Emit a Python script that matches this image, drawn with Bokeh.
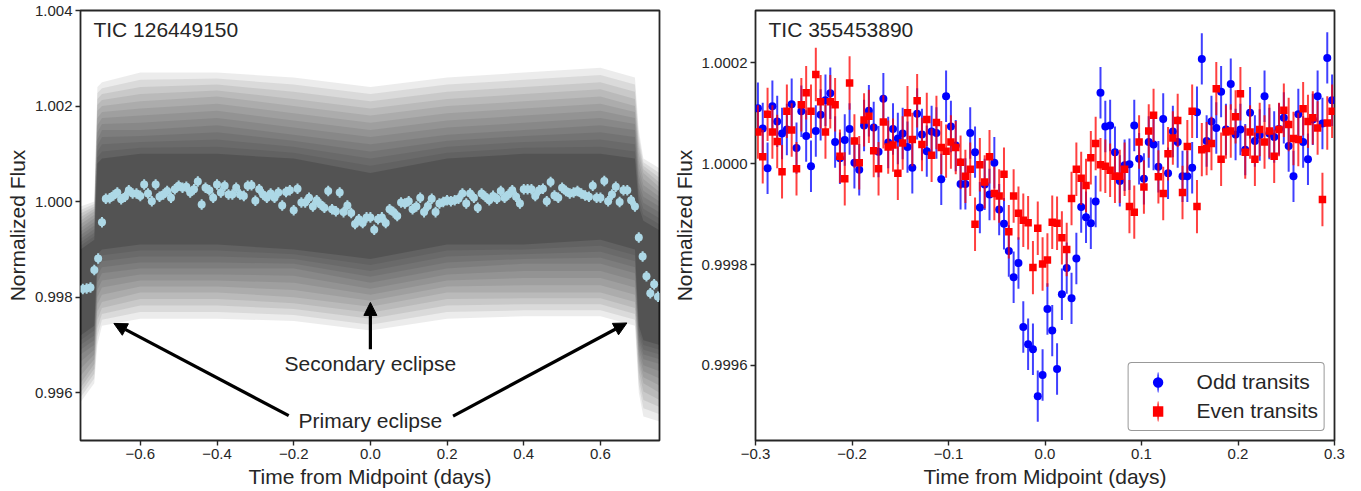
import math
from bokeh.plotting import figure
from bokeh.models import (FixedTicker, CustomJSTickFormatter, Arrow, NormalHead,
                          Label, Legend, LegendItem, Range1d)
from bokeh.layouts import row
from bokeh.embed import file_html
from bokeh.resources import INLINE

# ---------------- Left panel data (TIC 126449150) ----------------
bin_time = [-0.75, -0.74, -0.73, -0.72, -0.71, -0.70, -0.69, -0.68, -0.67, -0.66,
            -0.65, -0.64, -0.63, -0.62, -0.61, -0.60, -0.59, -0.58, -0.57, -0.56,
            -0.55, -0.54, -0.53, -0.52, -0.51, -0.50, -0.49, -0.48, -0.47, -0.46,
            -0.45, -0.44, -0.43, -0.42, -0.41, -0.40, -0.39, -0.38, -0.37, -0.36,
            -0.35, -0.34, -0.33, -0.32, -0.31, -0.30, -0.29, -0.28, -0.27, -0.26,
            -0.25, -0.24, -0.23, -0.22, -0.21, -0.20, -0.19, -0.18, -0.17, -0.16,
            -0.15, -0.14, -0.13, -0.12, -0.11, -0.10, -0.09, -0.08, -0.07, -0.06,
            -0.05, -0.04, -0.03, -0.02, -0.01, 0.00, 0.01, 0.02, 0.03, 0.04,
            0.05, 0.06, 0.07, 0.08, 0.09, 0.10, 0.11, 0.12, 0.13, 0.14,
            0.15, 0.16, 0.17, 0.18, 0.19, 0.20, 0.21, 0.22, 0.23, 0.24,
            0.25, 0.26, 0.27, 0.28, 0.29, 0.30, 0.31, 0.32, 0.33, 0.34,
            0.35, 0.36, 0.37, 0.38, 0.39, 0.40, 0.41, 0.42, 0.43, 0.44,
            0.45, 0.46, 0.47, 0.48, 0.49, 0.50, 0.51, 0.52, 0.53, 0.54,
            0.55, 0.56, 0.57, 0.58, 0.59, 0.60, 0.61, 0.62, 0.63, 0.64,
            0.65, 0.66, 0.67, 0.68, 0.69, 0.70, 0.71, 0.72, 0.73, 0.74, 0.75]
bin_flux = [0.99817, 0.99818, 0.99820, 0.99857, 0.99881, 0.99957, 1.00006, 1.00007, 1.00013, 1.00019,
            1.00005, 1.00010, 1.00024, 1.00017, 1.00017, 1.00012, 1.00036, 1.00017, 1.00001, 1.00036,
            1.00010, 1.00015, 1.00022, 1.00008, 1.00026, 1.00033, 1.00029, 1.00031, 1.00019, 1.00026,
            1.00042, 0.99994, 1.00029, 1.00024, 1.00008, 1.00036, 1.00019, 1.00033, 1.00015, 1.00015,
            1.00029, 1.00015, 1.00012, 1.00033, 1.00034, 1.00002, 1.00026, 1.00015, 1.00008, 1.00017,
            1.00008, 1.00019, 0.99992, 1.00020, 1.00024, 0.99982, 1.00027, 0.99998, 0.99998, 1.00008,
            0.99990, 1.00003, 0.99994, 0.99987, 1.00022, 0.99984, 0.99980, 1.00019, 0.99978, 0.99992,
            0.99976, 0.99953, 0.99963, 0.99955, 0.99967, 0.99967, 0.99941, 0.99963, 0.99967, 0.99955,
            0.99984, 0.99978, 0.99970, 0.99998, 0.99996, 1.00001, 0.99984, 0.99990, 1.00008, 0.99978,
            0.99991, 1.00006, 0.99978, 0.99996, 0.99999, 1.00003, 1.00001, 1.00003, 1.00006, 1.00017,
            0.99996, 1.00017, 1.00008, 0.99987, 1.00017, 1.00010, 1.00003, 1.00012, 1.00006, 1.00022,
            1.00008, 1.00015, 1.00024, 1.00010, 0.99996, 1.00026, 1.00026, 1.00026, 1.00012, 1.00024,
            1.00027, 1.00001, 1.00041, 1.00013, 1.00008, 1.00029, 1.00022, 1.00017, 1.00019, 1.00022,
            1.00017, 1.00013, 1.00010, 1.00033, 1.00008, 1.00008, 1.00043, 1.00001, 1.00015, 1.00031,
            0.99999, 1.00024, 1.00024, 1.00003, 0.99990, 0.99925, 0.99885, 0.99844, 0.99808, 0.99827, 0.99801]
bin_err = 0.00011

# Envelope of the unbinned cloud, read at a few times (outer -> inner)
cloud_time = [-0.756, -0.72, -0.712, -0.70, -0.6, -0.4, -0.2, 0.0, 0.2, 0.4, 0.6, 0.69, 0.70, 0.712, 0.754]
cloud_outer_top = [0.9999, 1.0000, 1.0024, 1.0025, 1.0027, 1.0027, 1.0026, 1.0024, 1.0026, 1.0027, 1.0028, 1.0026, 1.0015, 1.0009, 1.0007]
cloud_outer_bot = [0.9958, 0.9962, 0.9970, 0.9974, 0.99755, 0.99755, 0.9975, 0.9973, 0.99755, 0.9976, 0.9976, 0.9974, 0.9960, 0.9955, 0.9954]
cloud_mid_top = [0.9996, 0.9998, 1.0019, 1.0020, 1.0021, 1.0022, 1.0020, 1.0018, 1.0020, 1.0021, 1.0022, 1.0020, 1.0010, 1.0006, 1.0003]
cloud_mid_bot = [0.9962, 0.9966, 0.9977, 0.9979, 0.9981, 0.9981, 0.9980, 0.9978, 0.9981, 0.9981, 0.9981, 0.9979, 0.9966, 0.9962, 0.9960]
cloud_core_top = [0.9993, 0.9995, 1.0013, 1.0015, 1.0015, 1.0016, 1.0014, 1.0012, 1.0014, 1.0015, 1.0016, 1.0015, 1.0004, 1.0001, 0.9999]
cloud_core_bot = [0.9968, 0.9970, 0.9983, 0.9985, 0.9986, 0.9986, 0.9986, 0.9983, 0.9986, 0.9987, 0.9987, 0.9985, 0.9970, 0.9967, 0.9966]
cloud_dark_top = [0.9990, 0.9992, 1.0008, 1.0009, 1.0010, 1.0010, 1.0009, 1.0006, 1.0009, 1.0010, 1.0010, 1.0009, 0.9999, 0.9996, 0.9994]
cloud_dark_bot = [0.9972, 0.9974, 0.9989, 0.9990, 0.9991, 0.9991, 0.9990, 0.9988, 0.9991, 0.9991, 0.9992, 0.9990, 0.9974, 0.9971, 0.9970]

# ---------------- Right panel data (TIC 355453890) ----------------
oe_time = [-0.2975, -0.2925, -0.2875, -0.2825, -0.2775, -0.2725, -0.2675, -0.2625, -0.2575, -0.2525,
           -0.2475, -0.2425, -0.2375, -0.2325, -0.2275, -0.2225, -0.2175, -0.2125, -0.2075, -0.2025,
           -0.1975, -0.1925, -0.1875, -0.1825, -0.1775, -0.1725, -0.1675, -0.1625, -0.1575, -0.1525,
           -0.1475, -0.1425, -0.1375, -0.1325, -0.1275, -0.1225, -0.1175, -0.1125, -0.1075, -0.1025,
           -0.0975, -0.0925, -0.0875, -0.0825, -0.0775, -0.0725, -0.0675, -0.0625, -0.0575, -0.0525,
           -0.0475, -0.0425, -0.0375, -0.0325, -0.0275, -0.0225, -0.0175, -0.0125, -0.0075, -0.0025,
           0.0025, 0.0075, 0.0125, 0.0175, 0.0225, 0.0275, 0.0325, 0.0375, 0.0425, 0.0475,
           0.0525, 0.0575, 0.0625, 0.0675, 0.0725, 0.0775, 0.0825, 0.0875, 0.0925, 0.0975,
           0.1025, 0.1075, 0.1125, 0.1175, 0.1225, 0.1275, 0.1325, 0.1375, 0.1425, 0.1475,
           0.1525, 0.1575, 0.1625, 0.1675, 0.1725, 0.1775, 0.1825, 0.1875, 0.1925, 0.1975,
           0.2025, 0.2075, 0.2125, 0.2175, 0.2225, 0.2275, 0.2325, 0.2375, 0.2425, 0.2475,
           0.2525, 0.2575, 0.2625, 0.2675, 0.2725, 0.2775, 0.2825, 0.2875, 0.2925, 0.2975]
odd_flux = [1.000110, 1.000070, 0.999991, 1.000114, 1.000084, 1.000060, 1.000068, 1.000118, 1.000031, 1.000104,
            1.000055, 0.999995, 1.000065, 1.000097, 1.000126, 1.000140, 1.000043, 1.000011, 1.000047, 1.000069,
            1.000002, 0.999988, 1.000076, 1.000105, 1.000072, 1.000024, 1.000129, 1.000042, 1.000069, 1.000050,
            1.000060, 1.000033, 0.999992, 1.000099, 1.000058, 1.000025, 1.000064, 1.000061, 0.999969, 1.000134,
            1.000074, 1.000036, 0.999960, 0.999960, 1.000061, 1.000023, 0.999913, 0.999959, 0.999939, 1.000002,
            0.999909, 0.999881, 0.999827, 0.999775, 0.999803, 0.999676, 0.999642, 0.999632, 0.999539, 0.999581,
            0.999712, 0.999669, 0.999593, 0.999741, 0.999793, 0.999733, 0.999812, 0.999914, 0.999894, 0.999882,
            0.999925, 1.000141, 1.000074, 1.000076, 1.000023, 0.999966, 0.999997, 0.999999, 1.000076, 1.000010,
            0.999970, 1.000043, 1.000038, 0.999994, 1.000089, 0.999981, 1.000064, 1.000043, 0.999975, 0.999975,
            0.999992, 1.000102, 1.000208, 1.000045, 1.000084, 1.000071, 1.000143, 1.000068, 1.000158, 1.000058,
            1.000068, 1.000028, 1.000101, 1.000045, 1.000057, 1.000134, 1.000060, 1.000053, 1.000069, 1.000091,
            1.000035, 0.999975, 1.000098, 1.000043, 1.000009, 1.000088, 1.000134, 1.000080, 1.000210, 1.000126]
even_flux = [1.000063, 1.000014, 1.000098, 1.000063, 1.000044, 0.999984, 1.000104, 1.000067, 0.999990, 1.000117,
             1.000141, 1.000104, 1.000177, 1.000123, 1.000063, 1.000123, 1.000117, 1.000015, 0.999970, 1.000160,
             1.000045, 1.000002, 1.000087, 1.000094, 1.000026, 0.999990, 1.000083, 1.000033, 1.000037, 0.999981,
             1.000041, 1.000101, 1.000048, 1.000125, 1.000038, 1.000088, 1.000017, 1.000082, 1.000032, 1.000025,
             1.000043, 1.000032, 1.000003, 0.999975, 0.999989, 0.999880, 0.999998, 0.999964, 1.000014, 0.999941,
             0.999936, 0.999979, 0.999865, 0.999936, 0.999902, 0.999888, 0.999883, 0.999794, 0.999872, 0.999801,
             0.999809, 0.999884, 0.999882, 0.999853, 0.999830, 0.999931, 0.999989, 0.999971, 0.999957, 1.000012,
             1.000040, 0.999998, 0.999995, 0.999987, 0.999975, 0.999975, 0.999989, 0.999915, 0.999904, 1.000043,
             0.999954, 1.000065, 1.000096, 0.999974, 0.999941, 1.000020, 1.000051, 1.000086, 0.999943, 1.000034,
             1.000104, 0.999915, 1.000028, 1.000030, 1.000040, 1.000149, 1.000009, 1.000063, 1.000065, 1.000093,
             1.000139, 1.000023, 1.000063, 1.000009, 1.000068, 1.000043, 1.000065, 1.000015, 1.000068, 1.000106,
             1.000078, 1.000050, 1.000048, 1.000109, 1.000084, 1.000091, 1.000071, 0.999929, 1.000081, 1.000104]
odd_err = 0.000051
even_err = 0.000053

FONT = "Liberation Sans"
TXT = "#262626"
BIG = "21px"
TICK = "15px"


def style(p, xticks, yticks, xfmt, yfmt):
    p.outline_line_color = TXT
    p.outline_line_width = 1.8
    p.xgrid.visible = False
    p.ygrid.visible = False
    p.xaxis.ticker = FixedTicker(ticks=xticks)
    p.yaxis.ticker = FixedTicker(ticks=yticks)
    p.xaxis.formatter = xfmt
    p.yaxis.formatter = yfmt
    for ax in (p.xaxis[0], p.yaxis[0]):
        ax.axis_line_color = None
        ax.major_tick_line_color = TXT
        ax.major_tick_line_width = 1.4
        ax.major_tick_out = 5
        ax.major_tick_in = 0
        ax.minor_tick_line_color = None
        ax.major_label_text_font = FONT
        ax.major_label_text_font_size = TICK
        ax.major_label_text_color = TXT
        ax.major_label_standoff = 3
        ax.axis_label_text_font = FONT
        ax.axis_label_text_font_size = BIG
        ax.axis_label_text_font_style = "normal"
        ax.axis_label_text_color = TXT
        ax.axis_label_standoff = 3


xfmt_code = """
const a = Math.abs(tick) < 1e-9 ? 0 : tick;
return (a < 0 ? "\\u2212" : "") + Math.abs(a).toFixed(1);
"""

# ---------------- Left figure ----------------
p1 = figure(frame_width=579, frame_height=430, output_backend="svg", toolbar_location=None,
            x_range=Range1d(-0.756, 0.754), y_range=Range1d(0.995, 1.004),
            min_border_left=80, min_border_right=2, min_border_top=10, min_border_bottom=48)
style(p1, [-0.6, -0.4, -0.2, 0.0, 0.2, 0.4, 0.6], [0.996, 0.998, 1.0, 1.002, 1.004],
      CustomJSTickFormatter(code=xfmt_code), CustomJSTickFormatter(code="return tick.toFixed(3);"))
p1.xaxis.axis_label = "Time from Midpoint (days)"
p1.yaxis.axis_label = "Normalized Flux"

# smooth shading of the point cloud: blend between the read envelopes
envs = [(cloud_outer_top, cloud_outer_bot), (cloud_mid_top, cloud_mid_bot),
        (cloud_core_top, cloud_core_bot), (cloud_dark_top, cloud_dark_bot)]
steps = 4
for i in range(len(envs) - 1):
    (t0, b0), (t1, b1) = envs[i], envs[i + 1]
    for s in range(steps):
        w = s / steps
        top = [a + (b - a) * w for a, b in zip(t0, t1)]
        bot = [a + (b - a) * w for a, b in zip(b0, b1)]
        p1.varea(x=cloud_time, y1=bot, y2=top, fill_color="black", fill_alpha=0.075)
p1.varea(x=cloud_time, y1=cloud_dark_bot, y2=cloud_dark_top, fill_color="black", fill_alpha=0.15)

p1.segment(x0=bin_time, y0=[f - bin_err for f in bin_flux], x1=bin_time,
           y1=[f + bin_err for f in bin_flux], line_color="lightblue", line_width=2)
p1.scatter(bin_time, bin_flux, marker="circle", size=8, fill_color="lightblue", line_color=None)

p1.add_layout(Label(x=-0.7223, y=1.0036, text="TIC 126449150", text_font=FONT,
                    text_font_size=BIG, text_color=TXT, text_baseline="middle"))
p1.add_layout(Label(x=0.0, y=0.99662, text="Secondary eclipse", text_font=FONT,
                    text_font_size=BIG, text_color=TXT, text_align="center", text_baseline="middle"))
p1.add_layout(Label(x=0.0, y=0.99541, text="Primary eclipse", text_font=FONT,
                    text_font_size=BIG, text_color=TXT, text_align="center", text_baseline="middle"))
for xs, ys, xe, ye in [(0.0, 0.99691, 0.0, 0.99789),
                       (-0.213, 0.99552, -0.669, 0.99745),
                       (0.2156, 0.99551, 0.669, 0.99746)]:
    p1.add_layout(Arrow(end=NormalHead(size=13, fill_color="black", line_color="black"),
                        x_start=xs, y_start=ys, x_end=xe, y_end=ye,
                        line_color="black", line_width=3.2))

# ---------------- Right figure ----------------
p2 = figure(frame_width=579, frame_height=430, output_backend="svg", toolbar_location=None,
            x_range=Range1d(-0.3, 0.3), y_range=Range1d(0.999451, 1.000304),
            min_border_left=94, min_border_right=14, min_border_top=10, min_border_bottom=48)
style(p2, [-0.3, -0.2, -0.1, 0.0, 0.1, 0.2, 0.3], [0.9996, 0.9998, 1.0, 1.0002],
      CustomJSTickFormatter(code=xfmt_code), CustomJSTickFormatter(code="return tick.toFixed(4);"))
p2.xaxis.axis_label = "Time from Midpoint (days)"
p2.yaxis.axis_label = "Normalized Flux"

p2.segment(x0=oe_time, y0=[f - odd_err for f in odd_flux], x1=oe_time,
           y1=[f + odd_err for f in odd_flux], line_color="blue", line_alpha=0.75, line_width=2)
odd_pts = p2.scatter(oe_time, odd_flux, marker="circle", size=8, fill_color="blue", line_color=None)
p2.segment(x0=oe_time, y0=[f - even_err for f in even_flux], x1=oe_time,
           y1=[f + even_err for f in even_flux], line_color="red", line_alpha=0.75, line_width=2)
even_pts = p2.scatter(oe_time, even_flux, marker="square", size=7.5, fill_color="red", line_color=None)

# legend proxies: thin tall ellipses render as vertical error bars in the legend
odd_bar = p2.ellipse(x=[-1.0], y=[1.0], width=2.6, height=24, width_units="screen",
                     height_units="screen", fill_color="blue", fill_alpha=0.75, line_color=None)
even_bar = p2.ellipse(x=[-1.0], y=[1.0], width=2.6, height=24, width_units="screen",
                      height_units="screen", fill_color="red", fill_alpha=0.75, line_color=None)

p2.add_layout(Label(x=-0.2865, y=1.000266, text="TIC 355453890", text_font=FONT,
                    text_font_size=BIG, text_color=TXT, text_baseline="middle"))

legend = Legend(items=[LegendItem(label="Odd transits", renderers=[odd_bar, odd_pts]),
                       LegendItem(label="Even transits", renderers=[even_bar, even_pts])],
                location="bottom_right", margin=9, padding=6, spacing=3,
                glyph_width=46, glyph_height=26, label_standoff=16,
                label_text_font=FONT, label_text_font_size=BIG, label_text_color=TXT,
                border_line_color="#333333", border_line_width=1, background_fill_alpha=1.0)
try:
    legend.border_radius = 4
except Exception:
    pass
p2.add_layout(legend)

layout = row(p1, p2)
open("out.html", "w").write(file_html(layout, INLINE))
